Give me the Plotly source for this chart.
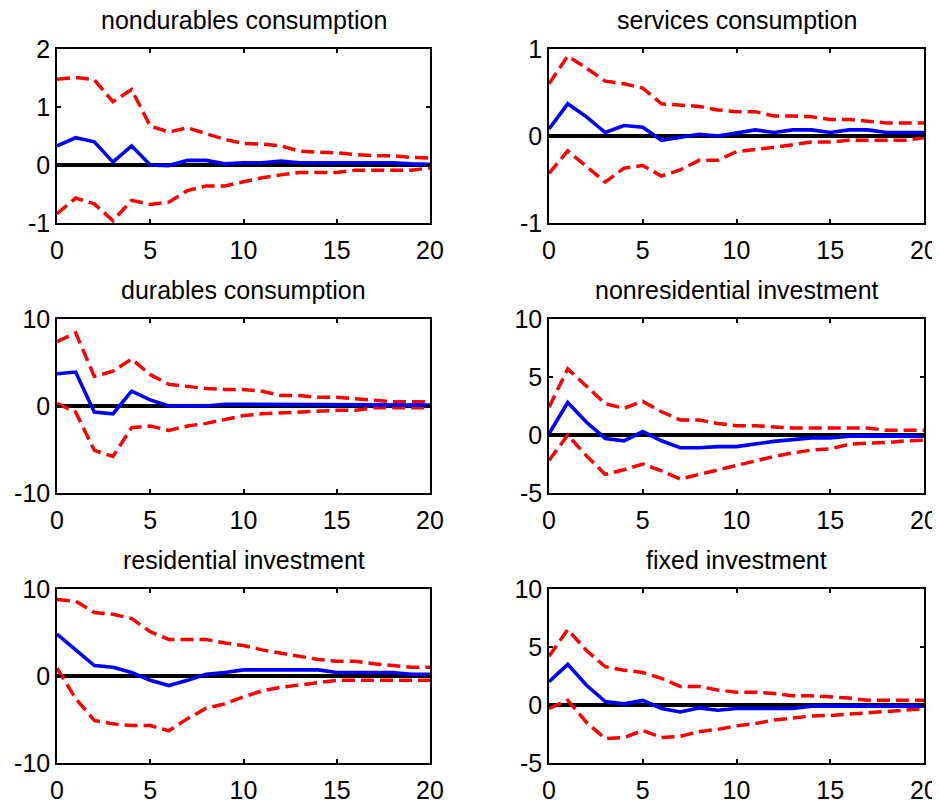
import plotly.graph_objects as go

W, H = 940, 801
OFF = 8  # page body margin offset in the browser

horizon = list(range(21))

titles = ["nondurables consumption", "services consumption",
          "durables consumption", "nonresidential investment",
          "residential investment", "fixed investment"]

nond_upper = [1.48, 1.51, 1.47, 1.09, 1.30, 0.67, 0.57, 0.64, 0.54, 0.44, 0.37,
              0.36, 0.33, 0.24, 0.22, 0.21, 0.18, 0.16, 0.16, 0.13, 0.12]
nond_irf = [0.33, 0.47, 0.40, 0.05, 0.33, 0.0, -0.01, 0.08, 0.08, 0.02, 0.04,
            0.04, 0.07, 0.04, 0.04, 0.04, 0.04, 0.04, 0.04, 0.02, 0.01]
nond_lower = [-0.84, -0.57, -0.67, -0.96, -0.61, -0.68, -0.64, -0.44, -0.36, -0.36, -0.29,
              -0.22, -0.17, -0.13, -0.13, -0.13, -0.09, -0.09, -0.09, -0.09, -0.05]

serv_upper = [0.60, 0.92, 0.78, 0.63, 0.60, 0.55, 0.37, 0.36, 0.34, 0.30, 0.28,
              0.28, 0.23, 0.23, 0.22, 0.19, 0.19, 0.17, 0.15, 0.15, 0.15]
serv_irf = [0.08, 0.37, 0.22, 0.04, 0.12, 0.10, -0.05, -0.02, 0.02, 0.0, 0.04,
            0.07, 0.04, 0.07, 0.07, 0.04, 0.07, 0.07, 0.04, 0.04, 0.04]
serv_lower = [-0.43, -0.17, -0.35, -0.53, -0.37, -0.34, -0.46, -0.39, -0.28, -0.28, -0.18,
              -0.16, -0.13, -0.10, -0.07, -0.07, -0.05, -0.05, -0.05, -0.05, -0.02]

dur_upper = [7.4, 8.4, 3.4, 4.0, 5.4, 3.6, 2.5, 2.2, 2.0, 1.9, 1.9,
             1.7, 1.2, 1.2, 1.0, 1.0, 0.8, 0.7, 0.5, 0.5, 0.5]
dur_irf = [3.7, 3.9, -0.7, -0.9, 1.7, 0.7, 0.0, 0.0, 0.0, 0.2, 0.2,
           0.2, 0.2, 0.2, 0.2, 0.2, 0.2, 0.2, 0.1, 0.1, 0.1]
dur_lower = [0.3, -0.7, -5.1, -5.8, -2.5, -2.3, -2.8, -2.3, -2.0, -1.5, -1.1,
             -0.9, -0.8, -0.7, -0.5, -0.5, -0.5, -0.2, -0.2, -0.2, -0.2]

nonres_upper = [2.4, 5.7, 4.2, 2.7, 2.3, 2.9, 2.0, 1.3, 1.3, 1.0, 0.8,
                0.8, 0.7, 0.6, 0.6, 0.6, 0.6, 0.6, 0.4, 0.4, 0.4]
nonres_irf = [0.1, 2.8, 1.1, -0.3, -0.5, 0.3, -0.5, -1.1, -1.1, -1.0, -1.0,
              -0.75, -0.55, -0.4, -0.25, -0.25, -0.1, -0.1, -0.1, -0.1, -0.1]
nonres_lower = [-2.2, 0.0, -1.8, -3.4, -3.0, -2.5, -3.1, -3.8, -3.4, -3.0, -2.6,
                -2.2, -1.85, -1.55, -1.3, -1.2, -0.8, -0.7, -0.65, -0.5, -0.45]

res_upper = [8.8, 8.6, 7.3, 7.1, 6.6, 5.1, 4.2, 4.2, 4.2, 3.8, 3.5,
             3.0, 2.6, 2.3, 1.9, 1.7, 1.7, 1.4, 1.2, 1.0, 1.0]
res_irf = [4.8, 3.0, 1.2, 1.0, 0.4, -0.5, -1.1, -0.5, 0.2, 0.4, 0.7,
           0.7, 0.7, 0.7, 0.7, 0.4, 0.4, 0.4, 0.4, 0.2, 0.2]
res_lower = [0.9, -2.6, -5.1, -5.5, -5.7, -5.7, -6.3, -4.9, -3.7, -3.2, -2.4,
             -1.7, -1.3, -1.0, -0.8, -0.5, -0.5, -0.5, -0.5, -0.5, -0.5]

fix_upper = [4.2, 6.5, 4.7, 3.3, 3.0, 2.8, 2.3, 1.6, 1.6, 1.3, 1.1,
             1.1, 1.0, 0.8, 0.8, 0.7, 0.6, 0.4, 0.4, 0.4, 0.4]
fix_irf = [2.0, 3.5, 1.7, 0.3, 0.1, 0.4, -0.3, -0.6, -0.25, -0.45, -0.3,
           -0.3, -0.3, -0.3, -0.1, -0.1, -0.1, -0.1, -0.1, -0.1, -0.1]
fix_lower = [-0.3, 0.4, -1.5, -2.9, -2.8, -2.2, -2.8, -2.7, -2.3, -2.1, -1.8,
             -1.6, -1.3, -1.1, -0.95, -0.9, -0.8, -0.7, -0.55, -0.45, -0.3]

zero_line = [0] * 21

y_ranges = [[-1, 2], [-1, 1], [-10, 10], [-5, 10], [-10, 10], [-5, 10]]
y_ticks = [[-1, 0, 1, 2], [-1, 0, 1], [-10, 0, 10], [-5, 0, 5, 10], [-10, 0, 10], [-5, 0, 5, 10]]
x_ticks = [0, 5, 10, 15, 20]

series = [(nond_upper, nond_irf, nond_lower), (serv_upper, serv_irf, serv_lower),
          (dur_upper, dur_irf, dur_lower), (nonres_upper, nonres_irf, nonres_lower),
          (res_upper, res_irf, res_lower), (fix_upper, fix_irf, fix_lower)]

# screen-pixel layout of the plot boxes
col_px = [(57, 430), (549, 924)]
row_px = [(49, 223), (319, 493), (589, 763)]
title_px = [20, 290, 560]

FONT = "Liberation Sans, Arial, sans-serif"


def px_x(p):
    return (p - OFF) / W


def px_y(p):
    return 1 - (p - OFF) / H


fig = go.Figure()
for i in range(6):
    r, c = divmod(i, 2)
    n = i + 1
    xa = "x" if n == 1 else f"x{n}"
    ya = "y" if n == 1 else f"y{n}"
    up, irf, lo = series[i]
    fig.add_trace(go.Scatter(x=horizon, y=zero_line, xaxis=xa, yaxis=ya, mode="lines",
                             line=dict(color="black", width=4), showlegend=False))
    fig.add_trace(go.Scatter(x=horizon, y=up, xaxis=xa, yaxis=ya, mode="lines",
                             line=dict(color="#ff0000", width=3.5, dash="13px,6px"), showlegend=False))
    fig.add_trace(go.Scatter(x=horizon, y=lo, xaxis=xa, yaxis=ya, mode="lines",
                             line=dict(color="#ff0000", width=3.5, dash="13px,6px"), showlegend=False))
    fig.add_trace(go.Scatter(x=horizon, y=irf, xaxis=xa, yaxis=ya, mode="lines",
                             line=dict(color="#0000ff", width=3.6), showlegend=False))
    x0, x1 = col_px[c]
    t0, t1 = row_px[r]
    ax_common = dict(showline=True, linecolor="black", linewidth=1.5, mirror="ticks",
                     ticks="inside", ticklen=4, tickwidth=1.5, tickcolor="black",
                     showgrid=False, zeroline=False, automargin=False,
                     tickfont=dict(family=FONT, size=25, color="black"))
    fig.layout[f"xaxis{n if n > 1 else ''}"] = dict(
        domain=[px_x(x0), px_x(x1)], range=[0, 20], tickvals=x_ticks,
        ticktext=[str(v) for v in x_ticks],
        anchor=ya, ticklabelstandoff=4, **ax_common)
    fig.layout[f"yaxis{n if n > 1 else ''}"] = dict(
        domain=[px_y(t1), px_y(t0)], range=y_ranges[i], tickvals=y_ticks[i],
        ticktext=[str(v) for v in y_ticks[i]],
        anchor=xa, **ax_common)
    fig.add_annotation(text=titles[i], xref="paper", yref="paper",
                       x=px_x((x0 + x1) / 2), y=px_y(title_px[r]),
                       xanchor="center", yanchor="middle", showarrow=False,
                       font=dict(family=FONT, size=25, color="black"))

fig.update_layout(width=W, height=H, margin=dict(l=0, r=0, t=0, b=0),
                  paper_bgcolor="white", plot_bgcolor="white")
fig.write_html("out.html")
